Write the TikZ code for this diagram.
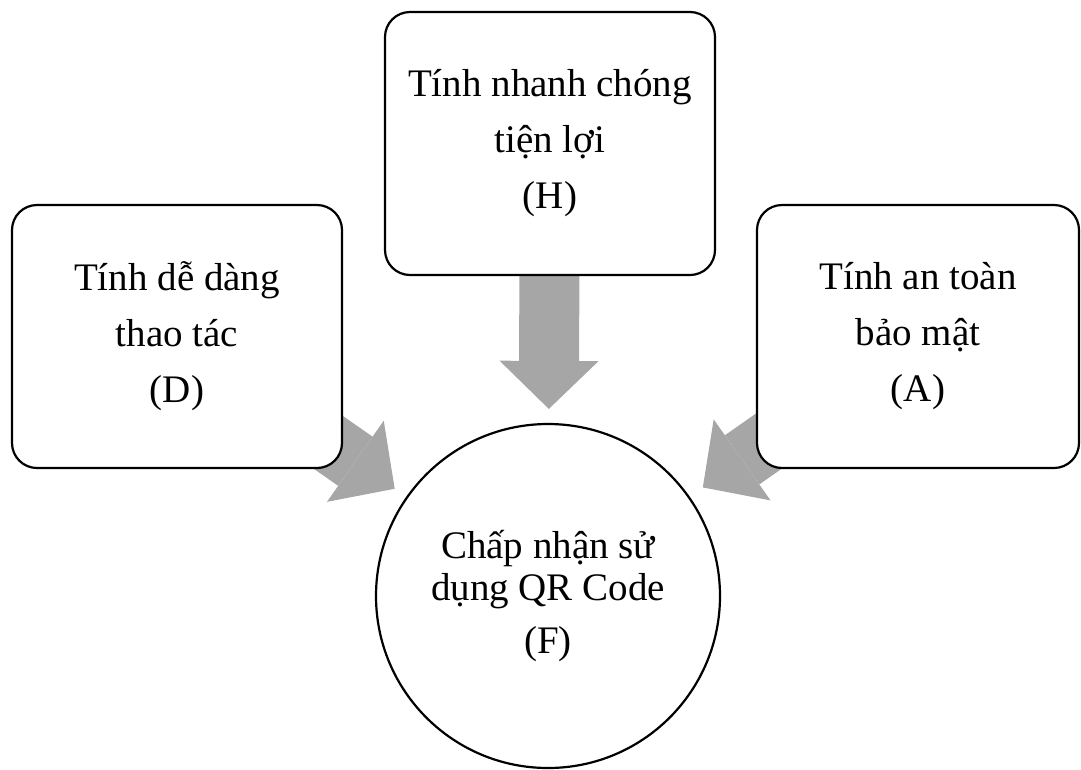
\documentclass[tikz,border=0pt]{standalone}
\usepackage{fontspec}
\setmainfont{Liberation Serif}
\usetikzlibrary{arrows.meta,backgrounds}
\definecolor{arrowgray}{RGB}{166,166,166}
\tikzset{
  factor/.style={draw,line width=2.2pt,rounded corners=25pt,fill=white,
    minimum height=263pt,inner sep=0pt,align=center,
    font=\fontsize{39}{42}\selectfont},
  outcome/.style={draw,circle,line width=2.2pt,fill=white,
    minimum size=344pt,inner sep=0pt,align=center,
    font=\fontsize{39}{42}\selectfont},
  bigarrow/.style={arrowgray,line width=60pt,
    -{Triangle[width=99pt,length=48pt,line width=0pt]}}
}
\begin{document}
\begin{tikzpicture}[x=1pt,y=1pt]
\useasboundingbox (0,0) rectangle (1081,-769);
\node[factor,minimum width=330pt] (D) at (177,-336.5) {Tính dễ dàng\\[14pt]thao tác\\[14pt](D)};
\node[factor,minimum width=330pt] (H) at (550,-143.5) {Tính nhanh chóng\\[14pt]tiện lợi\\[14pt](H)};
\node[factor,minimum width=322pt] (A) at (918,-336.5) {Tính an toàn\\[14pt]bảo mật\\[14pt](A)};
\node[outcome] (F) at (548,-596) {Chấp nhận sử\\dụng QR Code\\[11pt](F)};
\begin{scope}[on background layer]
\draw[bigarrow,shorten >=14pt] (H.center) -- (F);
\draw[bigarrow,shorten >=14pt] (D.center) -- (F);
\draw[bigarrow,shorten >=16pt] (A.center) -- (F);
\end{scope}
\end{tikzpicture}
\end{document}
